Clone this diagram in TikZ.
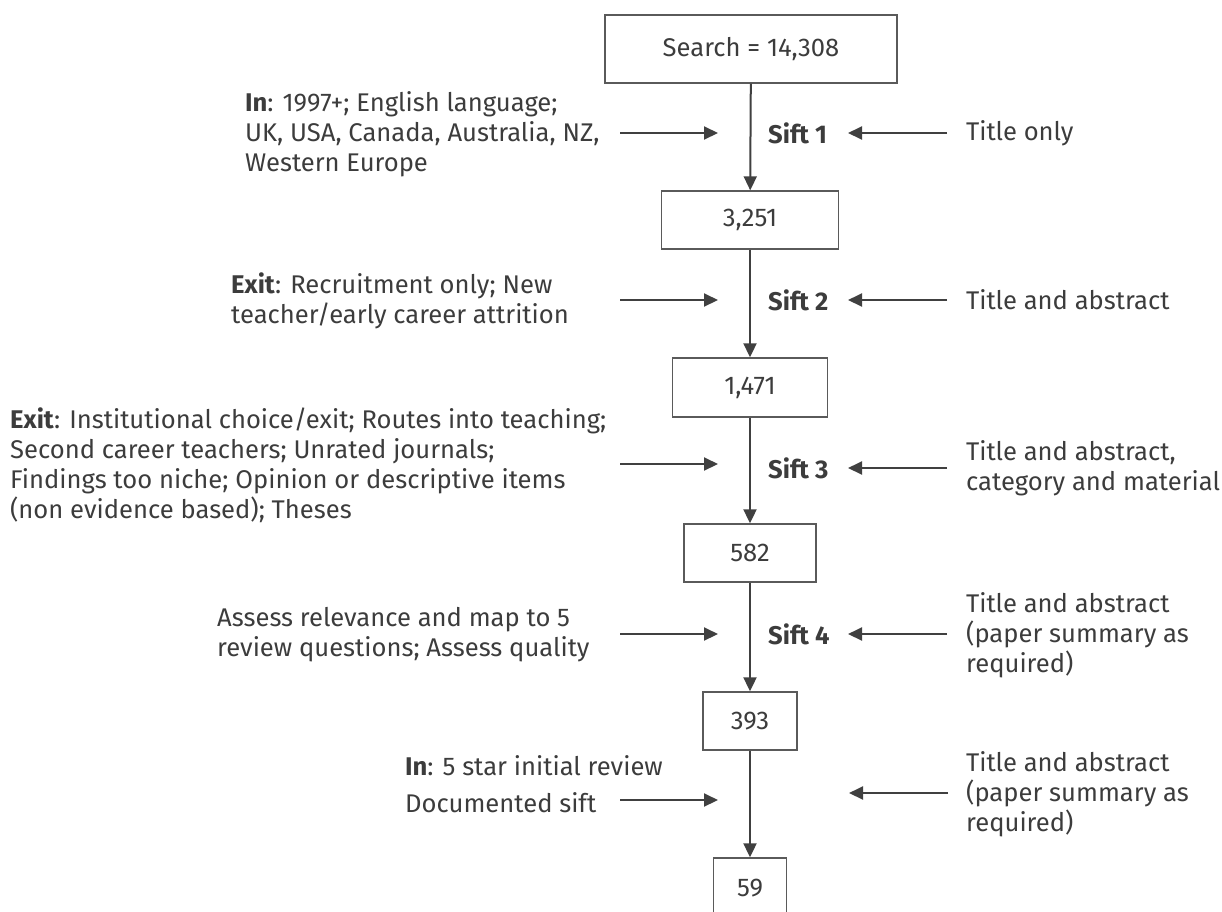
\documentclass[tikz,border=0pt]{standalone}
\usepackage{fontspec}
\setmainfont{Fira Sans}
\usetikzlibrary{arrows.meta}
\definecolor{txt}{HTML}{3C3C3C}
\definecolor{ln}{HTML}{404040}
\definecolor{bx}{HTML}{5A5A5A}
\tikzset{
  every node/.style={text=txt, font=\fontsize{25.6}{30}\selectfont},
  countbox/.style={draw=bx, line width=1.4pt, minimum height=58pt, inner sep=0pt},
  side/.style={align=left, anchor=west, inner sep=0pt},
  siftlbl/.style={anchor=west, inner sep=0pt, font=\fontsize{25.6}{30}\selectfont\bfseries},
  arr/.style={draw=ln, line width=2pt, -{Triangle[length=14pt,width=13pt]}},
}
\begin{document}
\begin{tikzpicture}[x=1pt,y=-1pt]
\useasboundingbox (0,0) rectangle (1222,911);
\clip (0,0) rectangle (1222,911);
% count boxes
\node[countbox, minimum width=292pt, minimum height=68pt] (b1) at (751,49) {Search = 14,308};
\node[countbox, minimum width=177pt] (b2) at (750,220) {3,251};
\node[countbox, minimum width=155pt, minimum height=59pt] (b3) at (750,387.5) {1,471};
\node[countbox, minimum width=132pt] (b4) at (750,553) {582};
\node[countbox, minimum width=94pt] (b5) at (750,721) {393};
\node[countbox, minimum width=73pt, minimum height=60pt] (b6) at (750,888) {59};
% main flow
\draw[arr] (b1) -- (b2);
\draw[arr] (b2) -- (b3);
\draw[arr] (b3) -- (b4);
\draw[arr] (b4) -- (b5);
\draw[arr] (b5) -- (b6);
% sift labels
\node[siftlbl] (s1) at (768,133) {Sift 1};
\node[siftlbl] (s2) at (768,300) {Sift 2};
\node[siftlbl] (s3) at (768,468) {Sift 3};
\node[siftlbl] (s4) at (768,634) {Sift 4};
% left texts
\node[side] (l1) at (245,134) {\textbf{In}: 1997+; English language;\\UK, USA, Canada, Australia, NZ,\\Western Europe};
\node[side] (l2) at (231,301) {\textbf{Exit}: Recruitment only; New\\teacher/early career attrition};
\node[side] (l3) at (10,465) {\textbf{Exit}: Institutional choice/exit; Routes into teaching;\\Second career teachers; Unrated journals;\\Findings too niche; Opinion or descriptive items\\(non evidence based); Theses};
\node[side] (l4) at (217,635) {Assess relevance and map to 5\\review questions; Assess quality};
\node[side] (l5) at (405,784) {\textbf{In}: 5 star initial review\\[7pt]Documented sift};
% right texts
\node[side] (r1) at (966,133) {Title only};
\node[side] (r2) at (966,300) {Title and abstract};
\node[side] (r3) at (966,468) {Title and abstract,\\category and material};
\node[side] (r4) at (966,635) {Title and abstract\\(paper summary as\\required)};
\node[side] (r5) at (966,794) {Title and abstract\\(paper summary as\\required)};
% left arrows
\coordinate (la1) at (620,133); \coordinate (lt1) at (718,133);
\coordinate (la2) at (620,300); \coordinate (lt2) at (718,300);
\coordinate (la3) at (620,464); \coordinate (lt3) at (718,464);
\coordinate (la4) at (620,634); \coordinate (lt4) at (718,634);
\coordinate (la5) at (620,800); \coordinate (lt5) at (718,800);
\draw[arr] (la1) -- (lt1);
\draw[arr] (la2) -- (lt2);
\draw[arr] (la3) -- (lt3);
\draw[arr] (la4) -- (lt4);
\draw[arr] (la5) -- (lt5);
% right arrows
\coordinate (ra1) at (947,133); \coordinate (rt1) at (848,133);
\coordinate (ra2) at (947,300); \coordinate (rt2) at (848,300);
\coordinate (ra3) at (947,468); \coordinate (rt3) at (848,468);
\coordinate (ra4) at (947,634); \coordinate (rt4) at (848,634);
\coordinate (ra5) at (948,793); \coordinate (rt5) at (849,793);
\draw[arr] (ra1) -- (rt1);
\draw[arr] (ra2) -- (rt2);
\draw[arr] (ra3) -- (rt3);
\draw[arr] (ra4) -- (rt4);
\draw[arr] (ra5) -- (rt5);
\end{tikzpicture}
\end{document}
